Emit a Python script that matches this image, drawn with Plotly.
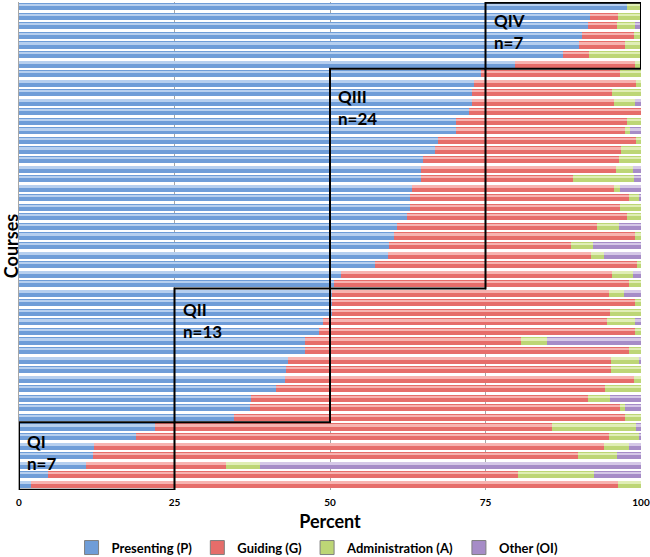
import plotly.graph_objects as go

# Courses listed from top to bottom of the chart
courses = list(range(1, 52))

presenting = [97.7, 91.8, 91.4, 90.5, 90.1, 87.5, 79.7,
              74.2, 73.1, 72.8, 72.8, 72.4, 70.3, 70.3, 67.4, 66.8, 65.0, 64.6, 64.6,
              63.2, 62.8, 62.8, 62.4, 60.8, 60.3, 59.5, 59.3, 57.2, 51.8, 50.6,
              50.3, 50.3, 50.3, 48.8, 48.2, 46.0, 46.0, 43.3, 43.0, 42.7, 41.3, 37.3, 37.2, 34.6,
              21.9, 18.8, 12.1, 11.9, 10.7, 4.6, 1.9]
guiding = [0.0, 4.5, 4.7, 8.3, 7.4, 4.2, 19.4,
           22.5, 26.1, 22.6, 22.9, 27.6, 27.4, 27.2, 31.8, 30.0, 31.5, 31.3, 24.4,
           32.5, 35.3, 33.9, 35.4, 32.2, 38.7, 29.2, 32.6, 42.1, 43.5, 47.4,
           44.6, 48.7, 44.7, 45.7, 50.9, 34.7, 52.0, 51.9, 52.2, 56.1, 52.9, 54.2, 59.5, 62.9,
           63.8, 76.0, 82.0, 77.9, 22.6, 75.7, 94.4]
administration = [2.3, 3.7, 2.9, 1.2, 2.5, 8.3, 0.9,
                  3.3, 0.8, 4.6, 3.3, 0.0, 2.3, 0.8, 0.8, 3.2, 3.5, 2.8, 9.9,
                  1.0, 1.6, 3.3, 2.2, 3.5, 1.0, 3.6, 2.1, 0.7, 3.4, 2.0,
                  2.4, 1.0, 5.0, 4.6, 0.9, 4.2, 2.0, 4.5, 4.8, 1.2, 5.8, 3.5, 0.8, 2.5,
                  13.5, 4.9, 4.0, 6.3, 5.5, 12.2, 3.7]
other = [0.0, 0.0, 1.0, 0.0, 0.0, 0.0, 0.0,
         0.0, 0.0, 0.0, 1.0, 0.0, 0.0, 1.7, 0.0, 0.0, 0.0, 1.3, 1.1,
         3.3, 0.3, 0.0, 0.0, 3.5, 0.0, 7.7, 6.0, 0.0, 1.3, 0.0,
         2.7, 0.0, 0.0, 0.9, 0.0, 15.1, 0.0, 0.3, 0.0, 0.0, 0.0, 5.0, 2.5, 0.0,
         0.8, 0.3, 1.9, 3.9, 61.2, 7.5, 0.0]

series_names = ["Presenting (P)", "Guiding (G)", "Administration (A)", "Other (OI)"]
series_values = [presenting, guiding, administration, other]
base_colors = ["#6f9dd8", "#e66d6a", "#bdd676", "#a68cc7"]
shine_colors = ["#b6cfef", "#f7b3b0", "#e0eeb6", "#d5c8e7"]

# Quadrant boxes: (x0, x1, first course, last course, label)
quadrants = [(75, 100, 1, 7, "QIV<br>n=7"),
             (50, 75, 8, 30, "QIII<br>n=24"),
             (25, 50, 31, 44, "QII<br>n=13"),
             (0, 25, 45, 51, "QI<br>n=7")]
label_drop = [0.6, 1.6, 0.85, 0.75]   # label distance below each box top (axis units)

FONT = "Lato"

fig = go.Figure()
for name, vals, col in zip(series_names, series_values, base_colors):
    fig.add_trace(go.Bar(y=courses, x=vals, name=name, orientation="h",
                         width=0.74, marker=dict(color=col, line=dict(width=0)),
                         legendgroup=name, showlegend=False, hoverinfo="x+name"))
# glossy highlight stripe drawn on an overlaid axis
for name, vals, col in zip(series_names, series_values, shine_colors):
    fig.add_trace(go.Bar(y=courses, x=vals, name=name, orientation="h",
                         width=0.2, offset=-0.24, yaxis="y2", showlegend=False,
                         legendgroup=name, marker=dict(color=col, line=dict(width=0)),
                         hoverinfo="skip"))
# legend keys (square swatches with grey border)
for name, col in zip(series_names, base_colors):
    fig.add_trace(go.Scatter(x=[None], y=[None], mode="markers", name=name,
                             legendgroup=name,
                             marker=dict(symbol="square", size=14, color=col,
                                         line=dict(color="#7f7f7f", width=1))))

shapes = []
annotations = []
for (x0, x1, c0, c1, label), drop in zip(quadrants, label_drop):
    top = c0 - 0.5 if c0 > 1 else 0.58
    bot = c1 + 0.5 if c1 < 51 else 51.58
    shapes.append(dict(type="rect", xref="x", yref="y", x0=x0, x1=x1, y0=top, y1=bot,
                       line=dict(color="black", width=2), fillcolor="rgba(0,0,0,0)"))
    annotations.append(dict(xref="x", yref="y", x=x0 + 1.0, y=top + drop, text=label,
                            showarrow=False, xanchor="left", yanchor="top", align="left",
                            font=dict(family=FONT, size=17, color="black", weight="bold")))

yrange = [51.6, 0.5]
fig.update_layout(
    width=650, height=557,
    margin=dict(l=19, r=9, t=2, b=67, autoexpand=False),
    paper_bgcolor="white", plot_bgcolor="white",
    barmode="stack", bargap=0.26,
    font=dict(family=FONT, color="black"),
    xaxis=dict(range=[0, 100], tickvals=[0, 25, 50, 75, 100], showgrid=True,
               gridcolor="#a6a6a6", gridwidth=1, zeroline=False, showline=False,
               ticks="", ticklabelstandoff=5,
               tickfont=dict(family=FONT, size=10, weight="bold"),
               title=dict(text="Percent", font=dict(family=FONT, size=18, weight="bold"),
                          standoff=8),
               automargin=False),
    yaxis=dict(range=yrange, showticklabels=False, showgrid=False, zeroline=False,
               showline=True, linecolor="#a6a6a6", linewidth=1, ticks="",
               title=dict(text="Courses", font=dict(family=FONT, size=18, weight="bold"),
                          standoff=0),
               automargin=False),
    yaxis2=dict(range=yrange, overlaying="y", showticklabels=False, showgrid=False,
                zeroline=False, showline=False, visible=False),
    legend=dict(orientation="h", x=0.48, xanchor="center", y=-0.118, yanchor="middle",
                font=dict(family=FONT, size=13, weight="bold"), traceorder="normal",
                itemwidth=30, tracegroupgap=0),
    shapes=shapes,
    annotations=annotations,
)

fig.write_html("out.html", config={"displayModeBar": False},
               post_script="document.body.style.margin='0';document.body.style.overflow='hidden';")
